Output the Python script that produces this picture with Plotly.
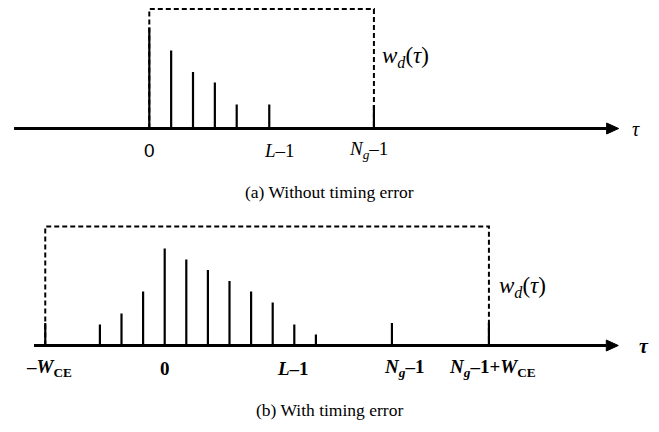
import plotly.graph_objects as go

# ---------------- data ----------------
# panel (a): without timing error
taps_a_tau = [0, 1, 2, 3, 4, 5.49]
taps_a_amp = [1.01, 0.78, 0.565, 0.46, 0.24, 0.24]
win_a_start, win_a_end, win_a_height = 0.0, 10.28, 1.195
marks_a_tau = [10.28]
marks_a_amp = [0.235]
labels_a_tau = [0, 5.94, 10.03]
labels_a_text = ["0", "<i>L</i>–1", "<i>N</i><sub><i>g</i></sub>–1"]

# panel (b): with timing error
taps_b_tau = [-3, -2, -1, 0, 1, 2, 3, 4, 5, 6, 7]
taps_b_amp = [0.21, 0.32, 0.54, 0.97, 0.86, 0.755, 0.645, 0.54, 0.43, 0.21, 0.11]
win_b_start, win_b_end, win_b_height = -5.53, 15.01, 1.19
marks_b_tau = [-5.53, 10.52, 15.01]
marks_b_amp = [0.225, 0.225, 0.225]
labels_b_tau = [-5.36, 0, 5.94, 11.08, 15.16]
labels_b_text = ["<b>–<i>W</i><sub>CE</sub></b>", "<b>0</b>", "<b><i>L</i>–1</b>",
                 "<b><i>N</i><sub><i>g</i></sub>–1</b>",
                 "<b><i>N</i><sub><i>g</i></sub>–1+<i>W</i><sub>CE</sub></b>"]

captions = ["(a) Without timing error", "(b) With timing error"]

# ---------------- figure ----------------
W, H = 659, 432
fig = go.Figure()

SERIF = "Liberation Serif"
SANS = "Liberation Sans"


def stems(xs, ys):
    sx, sy = [], []
    for x, y in zip(xs, ys):
        sx += [x, x, None]
        sy += [0, y, None]
    return sx, sy


def panel(xa, ya, taps_t, taps_h, ws, we, wh, mk_t, mk_h, ax_start, ax_tip, unit_px, head_h):
    # dashed window
    fig.add_trace(go.Scatter(x=[ws, ws, we, we, ws], y=[0, wh, wh, 0, 0], mode="lines",
                             line=dict(color="black", width=2, dash="5px,3px"),
                             xaxis=xa, yaxis=ya, hoverinfo="skip"))
    # taps
    sx, sy = stems(taps_t, taps_h)
    fig.add_trace(go.Scatter(x=sx, y=sy, mode="lines", line=dict(color="black", width=2.2),
                             xaxis=xa, yaxis=ya, hoverinfo="skip"))
    # window edge marks
    sx, sy = stems(mk_t, mk_h)
    fig.add_trace(go.Scatter(x=sx, y=sy, mode="lines", line=dict(color="black", width=2.2),
                             xaxis=xa, yaxis=ya, hoverinfo="skip"))
    # axis line with arrowhead
    head_len = 12.0 / unit_px
    fig.add_trace(go.Scatter(x=[ax_start, ax_tip - head_len], y=[0, 0], mode="lines",
                             line=dict(color="black", width=3),
                             xaxis=xa, yaxis=ya, hoverinfo="skip"))
    fig.add_trace(go.Scatter(x=[ax_tip - head_len, ax_tip, ax_tip - head_len, ax_tip - head_len],
                             y=[head_h, 0, -head_h, head_h], mode="lines", fill="toself",
                             fillcolor="black", line=dict(color="black", width=1),
                             xaxis=xa, yaxis=ya, hoverinfo="skip"))


panel("x", "y", taps_a_tau, taps_a_amp, win_a_start, win_a_end, win_a_height,
      marks_a_tau, marks_a_amp, -6.19, 21.48, 21.85, 0.055)
panel("x2", "y2", taps_b_tau, taps_b_amp, win_b_start, win_b_end, win_b_height,
      marks_b_tau, marks_b_amp, -6.05, 21.0, 21.6, 0.055)

ann = []
# panel (a) labels
for t, txt in zip(labels_a_tau, labels_a_text):
    fam = SANS if txt == "0" else SERIF
    ann.append(dict(x=t, y=-0.215, xref="x", yref="y", text=txt, showarrow=False,
                    font=dict(family=fam, size=19, color="black"),
                    xanchor="center", yanchor="middle"))
ann.append(dict(x=10.54, y=0.715, xref="x", yref="y", text="<i>w</i><sub><i>d</i></sub>(<i>τ</i>)",
                showarrow=False, font=dict(family=SERIF, size=23, color="black"),
                xanchor="left", yanchor="middle"))
ann.append(dict(x=22.27, y=0.0, xref="x", yref="y", text="<i>τ</i>", showarrow=False,
                font=dict(family=SERIF, size=20, color="black"), xanchor="center", yanchor="middle"))

# panel (b) labels
for t, txt in zip(labels_b_tau, labels_b_text):
    ann.append(dict(x=t, y=-0.225, xref="x2", yref="y2", text=txt, showarrow=False,
                    font=dict(family=SERIF, size=19, color="black"),
                    xanchor="center", yanchor="middle"))
ann.append(dict(x=15.4, y=0.585, xref="x2", yref="y2", text="<i>w</i><sub><i>d</i></sub>(<i>τ</i>)",
                showarrow=False, font=dict(family=SERIF, size=23, color="black"),
                xanchor="left", yanchor="middle"))
ann.append(dict(x=22.17, y=0.0, xref="x2", yref="y2", text="<b><i>τ</i></b>", showarrow=False,
                font=dict(family=SERIF, size=20, color="black"), xanchor="center", yanchor="middle"))

# captions
ann.append(dict(x=0.5, y=1 - 192 / H, xref="paper", yref="paper", text=captions[0], showarrow=False,
                font=dict(family=SERIF, size=17.5, color="black"), xanchor="center", yanchor="middle"))
ann.append(dict(x=0.5, y=1 - 410 / H, xref="paper", yref="paper", text=captions[1], showarrow=False,
                font=dict(family=SERIF, size=17.5, color="black"), xanchor="center", yanchor="middle"))

hidden = dict(visible=False, showgrid=False, zeroline=False, fixedrange=True)
fig.update_layout(
    width=W, height=H, margin=dict(l=0, r=0, t=0, b=0),
    paper_bgcolor="white", plot_bgcolor="white", showlegend=False,
    font=dict(family=SERIF, size=17, color="black"),
    xaxis=dict(domain=[0, 1], range=[-149.3 / 21.85, (W - 149.3) / 21.85], anchor="y", **hidden),
    yaxis=dict(domain=[1 - 200 / H, 1], range=[-0.715, 1.285], anchor="x", **hidden),
    xaxis2=dict(domain=[0, 1], range=[-164.7 / 21.6, (W - 164.7) / 21.6], anchor="y2", **hidden),
    yaxis2=dict(domain=[0, 227 / H], range=[-0.865, 1.405], anchor="x2", **hidden),
    annotations=ann,
)

fig.write_html("out.html")
